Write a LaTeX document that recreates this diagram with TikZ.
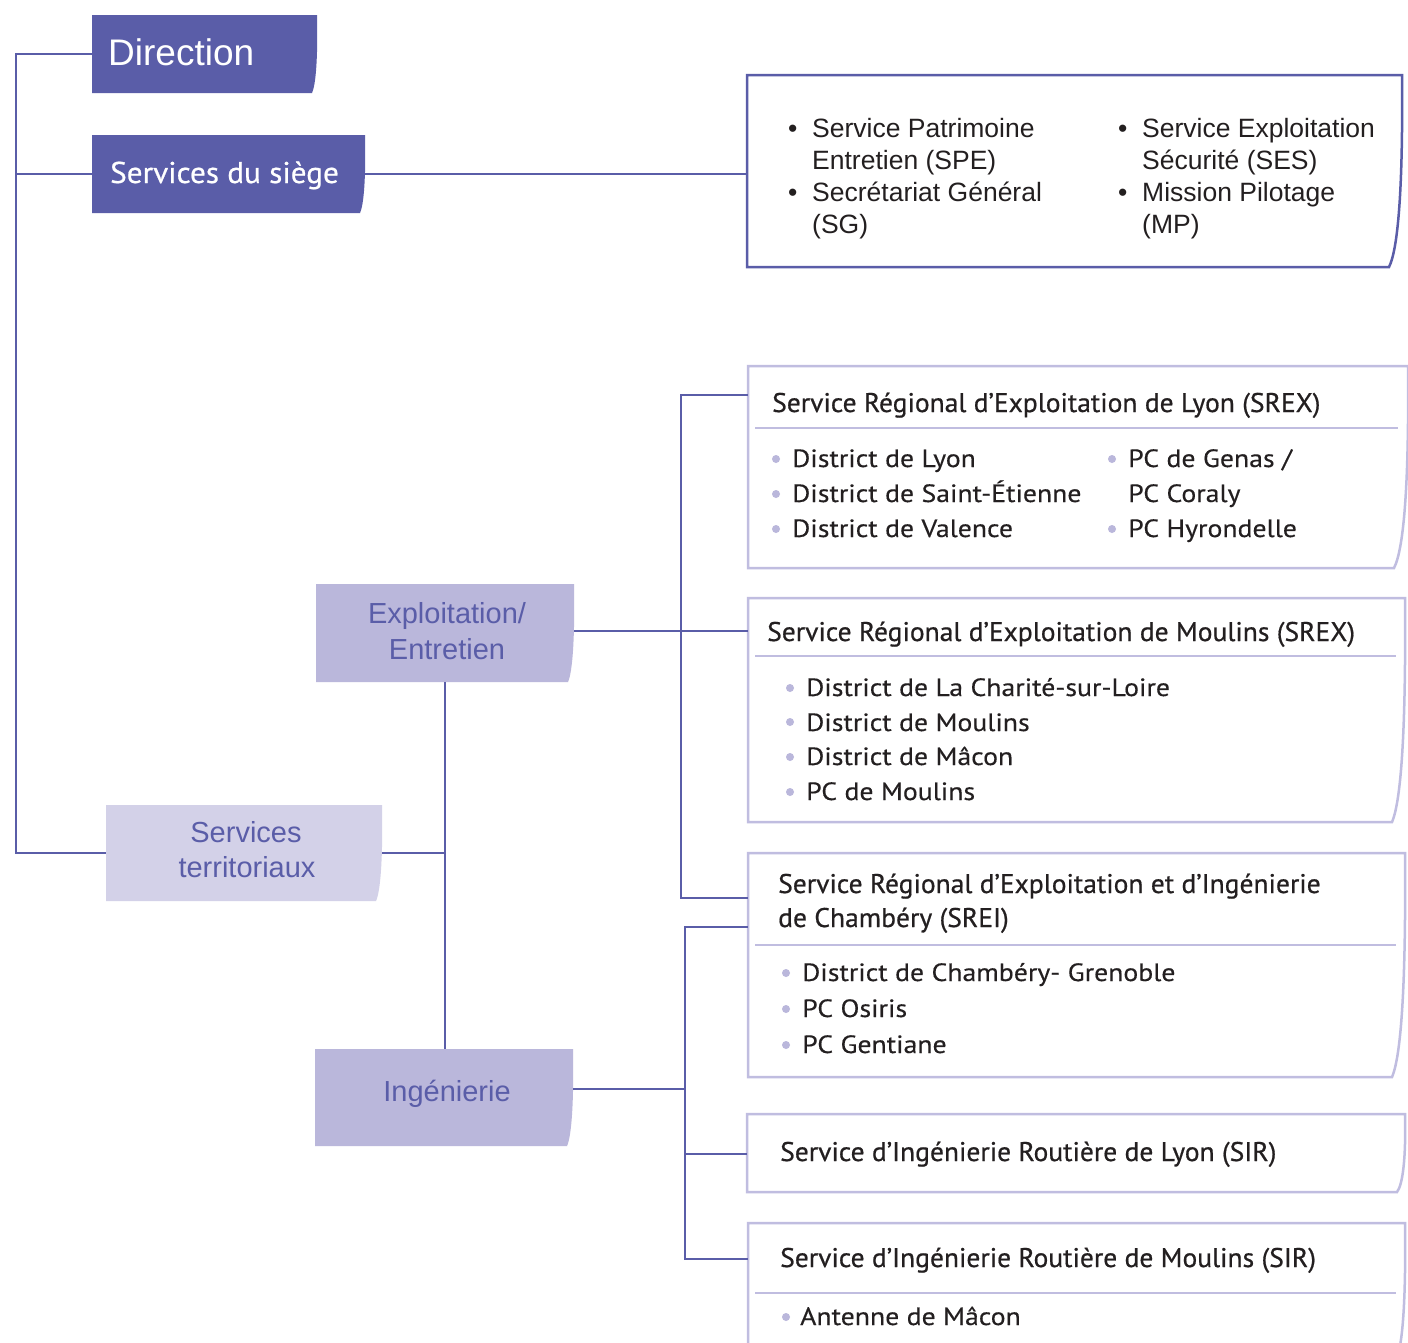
\documentclass[tikz,border=0pt]{standalone}
\usepackage{fontspec}
\setmainfont{Liberation Sans}
\newfontfamily\dinT{PT Sans}[FakeStretch=1.02, FakeBold=0.6]
\newfontfamily\dinI{PT Sans}[FakeStretch=1.11, FakeBold=0.3]
\newfontfamily\dinS{PT Sans}[FakeStretch=1.04, FakeBold=0.6]
\usetikzlibrary{fit}
\definecolor{dblue}{HTML}{5A5DA8}
\definecolor{mpurple}{HTML}{BAB7DB}
\definecolor{lpurple}{HTML}{D3D1E8}
\definecolor{bpurple}{HTML}{C0BDE0}
\definecolor{txt}{HTML}{231F20}
% name, x1, y1, x2, y2, inset of bottom-right corner, style
\newcommand\cbox[7]{%
  \path[#7] (#2,#3) -- (#4,#3) .. controls ({#4+1},{#3+0.55*(#5-#3)}) and ({#4-0.25*#6},{#3+0.9*(#5-#3)}) .. ({#4-#6},#5) -- (#2,#5) -- cycle;
  \node[fit={(#2,#3) (#4,#5)}, inner sep=0pt, draw=none] (#1) {};
}
\tikzset{
  conn/.style={draw=dblue, line width=2.5pt},
  darkbox/.style={fill=dblue},
  midbox/.style={fill=mpurple},
  lightbox/.style={fill=lpurple},
  linebox/.style={draw=dblue, line width=2.5pt, fill=white},
  outbox/.style={draw=bpurple, line width=2.5pt, fill=white},
  sep/.style={draw=bpurple, line width=2.5pt},
  arl/.style={anchor=base west, inner sep=0pt, text=txt, font=\fontsize{26.5}{32}\selectfont},
  ttl/.style={anchor=base west, inner sep=0pt, text=txt, font=\dinT\fontsize{27}{34}\selectfont},
  itm/.style={anchor=base west, inner sep=0pt, text=txt, font=\dinI\fontsize{25}{34}\selectfont},
  ctr/.style={anchor=base, inner sep=0pt, text=dblue, font=\fontsize{29}{35}\selectfont},
}
\newcommand\dotb[2]{\fill[mpurple] (#1,#2) circle (4pt);}
\begin{document}
\begin{tikzpicture}[x=1pt,y=-1pt]
\useasboundingbox (0,0) rectangle (1408,1342);
\clip (0,0) rectangle (1408,1342);
\fill[white] (0,0) rectangle (1408,1342);

% boxes
\cbox{dir}{92}{15}{317}{93}{5}{darkbox}
\cbox{siege}{92}{135}{365}{213}{5}{darkbox}
\cbox{spe}{747}{75}{1402}{267}{13}{linebox}
\cbox{terr}{106}{805}{382}{901}{6}{lightbox}
\cbox{expl}{316}{584}{574}{682}{6}{midbox}
\cbox{ing}{315}{1049}{573}{1146}{6}{midbox}
\cbox{lyon}{748}{366}{1408}{568}{14}{outbox}
\cbox{moul}{748}{598}{1405}{822}{13}{outbox}
\cbox{srei}{748}{853}{1405}{1077}{13}{outbox}
\cbox{sirl}{747}{1114}{1405}{1192}{8}{outbox}
\cbox{sirm}{748}{1223}{1405}{1360}{9}{outbox}

% separators
\draw[sep] (755,428) -- (1398,428);
\draw[sep] (755,656) -- (1396,656);
\draw[sep] (755,945) -- (1396,945);
\draw[sep] (755,1293) -- (1396,1293);

% connectors
\coordinate (trunk) at (16,0);
\coordinate (tr2) at (681,0);
\coordinate (tr3) at (685,0);
\draw[conn] (dir.west) -- (dir.west -| trunk) -- (terr.west -| trunk) -- (terr.west);
\draw[conn] (siege.west) -- (siege.west -| trunk);
\draw[conn] (siege.east) -- (siege.east -| spe.west);
\draw[conn] (terr.east) -- (terr.east -| expl.south);
\draw[conn] (expl.south) -- (expl.south |- ing.north);
\draw[conn] ([yshift=2pt]expl.east) -- ([yshift=2pt]expl.east -| moul.west);
\draw[conn] ([yshift=-29pt]lyon.north west) -| ([yshift=-45pt]srei.north west -| tr2) -- ([yshift=-45pt]srei.north west);
\draw[conn] ([yshift=8.5pt]ing.east) -- ([yshift=8.5pt]ing.east -| tr3);
\draw[conn] ([yshift=-74pt]srei.north west) -| ([yshift=-36pt]sirm.north west -| tr3) -- ([yshift=-36pt]sirm.north west);
\draw[conn] ([yshift=-40pt]sirl.north west) -- ([yshift=-40pt]sirl.north west -| tr3);

% left texts
\node[anchor=base west, inner sep=0pt, text=white, font=\fontsize{37}{44}\selectfont] (tdir) at (108,65) {Direction};
\node[anchor=base west, inner sep=0pt, text=white, font=\dinS\fontsize{30}{36}\selectfont] (tsiege) at (110,183) {Services du siège};
\node[ctr] (tterr1) at (246,842) {Services};
\node[ctr] (tterr2) at (247,877) {territoriaux};
\node[ctr] (texpl1) at (447,623) {Exploitation/};
\node[ctr] (texpl2) at (447,659) {Entretien};
\node[ctr] (ting) at (447,1101) {Ingénierie};

% siege services
\node[arl] (b1) at (788,137) {•};
\node[arl] (b2) at (788,201) {•};
\node[arl] (b3) at (1118,137) {•};
\node[arl] (b4) at (1118,201) {•};
\node[arl] (s1) at (812,137) {Service Patrimoine};
\node[arl] (s2) at (812,169) {Entretien (SPE)};
\node[arl] (s3) at (812,201) {Secrétariat Général};
\node[arl] (s4) at (812,233) {(SG)};
\node[arl] (s5) at (1142,137) {Service Exploitation};
\node[arl] (s6) at (1142,169) {Sécurité (SES)};
\node[arl] (s7) at (1142,201) {Mission Pilotage};
\node[arl] (s8) at (1142,233) {(MP)};

% Lyon
\node[ttl] (lyt) at (772,412) {Service Régional d’Exploitation de Lyon (SREX)};
\dotb{776}{459}\dotb{776}{494}\dotb{776}{529}
\node[itm] (ly1) at (792,467) {District de Lyon};
\node[itm] (ly2) at (792,502) {District de Saint-Étienne};
\node[itm] (ly3) at (792,537) {District de Valence};
\dotb{1112}{459}\dotb{1112}{529}
\node[itm] (ly4) at (1128,467) {PC de Genas /};
\node[itm] (ly5) at (1128,502) {PC Coraly};
\node[itm] (ly6) at (1128,537) {PC Hyrondelle};

% Moulins
\node[ttl] (mot) at (767,641) {Service Régional d’Exploitation de Moulins (SREX)};
\dotb{790}{688}\dotb{790}{722}\dotb{790}{757}\dotb{790}{792}
\node[itm] (mo1) at (806,696) {District de La Charité-sur-Loire};
\node[itm] (mo2) at (806,731) {District de Moulins};
\node[itm] (mo3) at (806,765) {District de Mâcon};
\node[itm] (mo4) at (806,800) {PC de Moulins};

% SREI
\node[ttl] (sr1) at (778,893) {Service Régional d’Exploitation et d’Ingénierie};
\node[ttl] (sr2) at (778,927) {de Chambéry (SREI)};
\dotb{786}{973}\dotb{786}{1009}\dotb{786}{1045}
\node[itm] (sr3) at (802,981) {District de Chambéry- Grenoble};
\node[itm] (sr4) at (802,1017) {PC Osiris};
\node[itm] (sr5) at (802,1053) {PC Gentiane};

% SIR
\node[ttl] (sl1) at (780,1161) {Service d’Ingénierie Routière de Lyon (SIR)};
\node[ttl] (sm1) at (780,1267) {Service d’Ingénierie Routière de Moulins (SIR)};
\dotb{786}{1317}
\node[itm] (sm2) at (800,1325) {Antenne de Mâcon};
\end{tikzpicture}
\end{document}
